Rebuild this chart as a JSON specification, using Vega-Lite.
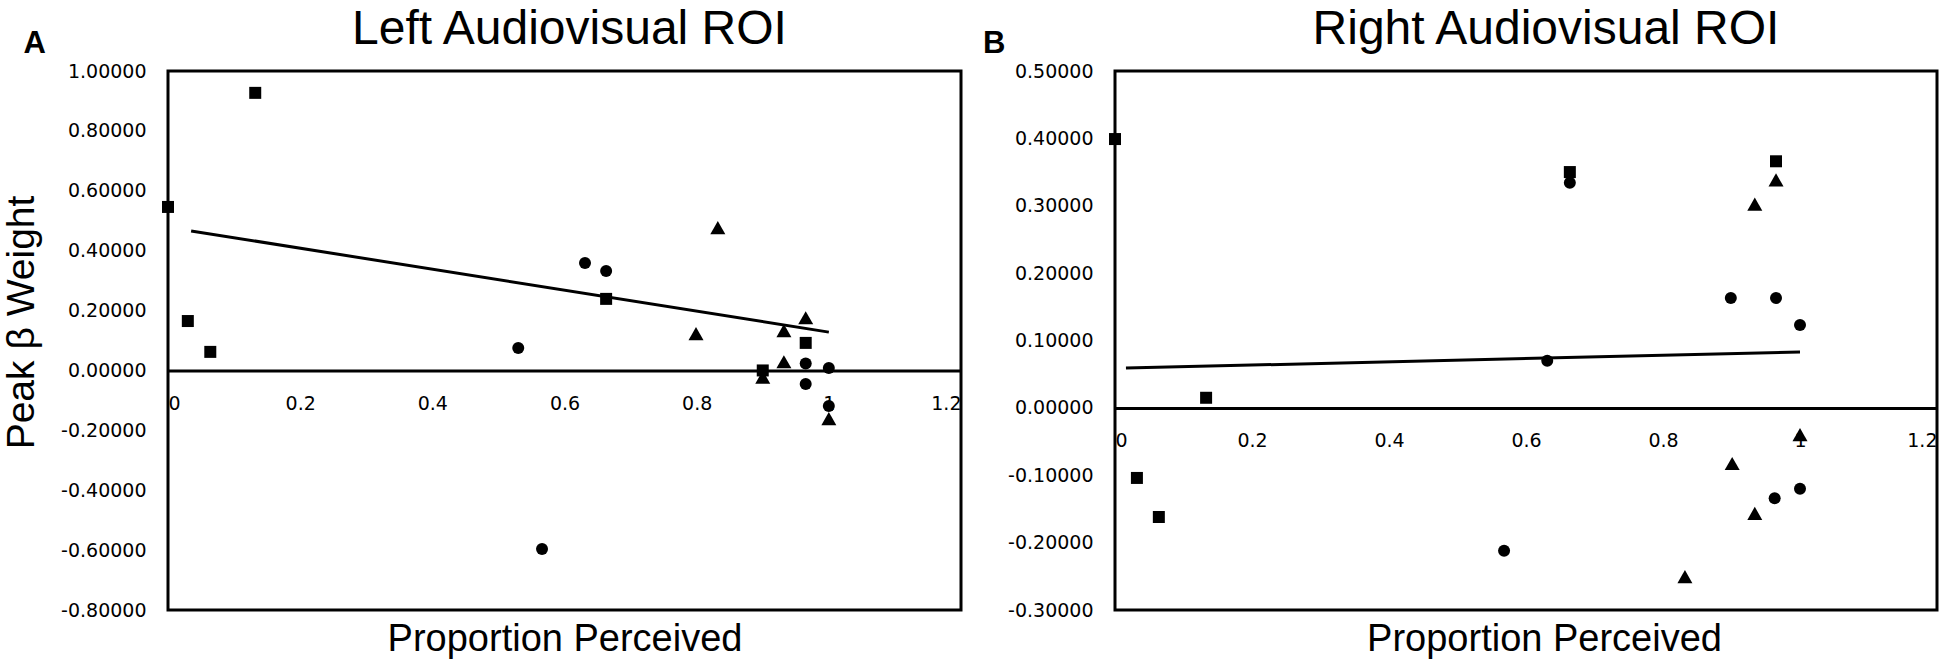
{
  "$schema": "https://vega.github.io/schema/vega-lite/v6.json",
  "padding": {"left": 0, "top": 4, "right": 0, "bottom": 0},
  "background": "white",
  "config": {
    "view": {"stroke": "black", "strokeWidth": 3},
    "axis": {"grid": false, "ticks": false, "labelColor": "black", "titleColor": "black", "labelFont": "DejaVu Sans", "labelFontSize": 19, "titleFont": "Liberation Sans", "titleFontWeight": "normal"},
    "title": {"font": "Liberation Sans", "color": "black", "baseline": "alphabetic"}
  },
  "datasets": {
    "left": [
      {"x": 0, "y": 0.546, "series": "S1"},
      {"x": 0.030, "y": 0.165, "series": "S1"},
      {"x": 0.064, "y": 0.062, "series": "S1"},
      {"x": 0.132, "y": 0.927, "series": "S1"},
      {"x": 0.663, "y": 0.239, "series": "S1"},
      {"x": 0.965, "y": 0.092, "series": "S1"},
      {"x": 0.900, "y": 0.0, "series": "S1"},
      {"x": 0.530, "y": 0.075, "series": "S2"},
      {"x": 0.631, "y": 0.359, "series": "S2"},
      {"x": 0.663, "y": 0.332, "series": "S2"},
      {"x": 0.566, "y": -0.596, "series": "S2"},
      {"x": 0.965, "y": 0.023, "series": "S2"},
      {"x": 1.0, "y": 0.008, "series": "S2"},
      {"x": 0.965, "y": -0.045, "series": "S2"},
      {"x": 1.0, "y": -0.119, "series": "S2"},
      {"x": 0.832, "y": 0.476, "series": "S3"},
      {"x": 0.799, "y": 0.122, "series": "S3"},
      {"x": 0.965, "y": 0.175, "series": "S3"},
      {"x": 0.932, "y": 0.132, "series": "S3"},
      {"x": 0.932, "y": 0.028, "series": "S3"},
      {"x": 0.900, "y": -0.023, "series": "S3"},
      {"x": 1.0, "y": -0.162, "series": "S3"}
    ],
    "right": [
      {"x": 0, "y": 0.399, "series": "S1"},
      {"x": 0.032, "y": -0.104, "series": "S1"},
      {"x": 0.064, "y": -0.162, "series": "S1"},
      {"x": 0.133, "y": 0.015, "series": "S1"},
      {"x": 0.664, "y": 0.350, "series": "S1"},
      {"x": 0.965, "y": 0.366, "series": "S1"},
      {"x": 0.664, "y": 0.334, "series": "S2"},
      {"x": 0.631, "y": 0.070, "series": "S2"},
      {"x": 0.568, "y": -0.212, "series": "S2"},
      {"x": 0.899, "y": 0.163, "series": "S2"},
      {"x": 0.965, "y": 0.163, "series": "S2"},
      {"x": 1.0, "y": 0.123, "series": "S2"},
      {"x": 1.0, "y": -0.120, "series": "S2"},
      {"x": 0.963, "y": -0.134, "series": "S2"},
      {"x": 0.965, "y": 0.338, "series": "S3"},
      {"x": 0.934, "y": 0.302, "series": "S3"},
      {"x": 1.0, "y": -0.040, "series": "S3"},
      {"x": 0.901, "y": -0.083, "series": "S3"},
      {"x": 0.934, "y": -0.157, "series": "S3"},
      {"x": 0.832, "y": -0.251, "series": "S3"}
    ],
    "leftTrend": [
      {"x": 0.035, "y": 0.466},
      {"x": 1.0, "y": 0.128}
    ],
    "rightTrend": [
      {"x": 0.016, "y": 0.059},
      {"x": 1.0, "y": 0.083}
    ]
  },
  "spacing": 20,
  "hconcat": [
    {
      "title": {"text": "A", "anchor": "start", "frame": "bounds", "fontSize": 31, "fontWeight": "bold", "offset": -55, "dx": 23},
      "hconcat": [
        {
          "width": 793,
          "height": 539,
          "title": {"text": "Left Audiovisual ROI", "fontSize": 48, "fontWeight": "normal", "offset": 8, "dx": 5},
          "layer": [
            {
              "data": {"name": "left"},
              "mark": {"type": "point", "filled": true, "color": "black", "opacity": 1, "size": 144},
              "encoding": {
                "x": {"field": "x", "type": "quantitative", "scale": {"domain": [0, 1.2], "nice": false, "zero": false},
                  "axis": {"values": [0, 0.2, 0.4, 0.6, 0.8, 1, 1.2], "format": "~g", "offset": -239.6, "domainColor": "black", "domainWidth": 3, "labelPadding": 24, "title": "Proportion Perceived", "titleFontSize": 38, "titleY": 280, "titleBaseline": "alphabetic"}},
                "y": {"field": "y", "type": "quantitative", "scale": {"domain": [-0.8, 1.0], "nice": false},
                  "axis": {"values": [-0.8, -0.6, -0.4, -0.2, 0, 0.2, 0.4, 0.6, 0.8, 1.0], "labelExpr": "replace(format(datum.value, '.5f'), '\u2212', '-')", "domain": false, "labelPadding": 22, "title": "Peak \u03b2 Weight", "titleFontSize": 39, "titleX": -135, "titleY": 251, "titleBaseline": "alphabetic", "titleAlign": "center"}},
                "shape": {"field": "series", "type": "nominal", "scale": {"domain": ["S1", "S2", "S3"], "range": ["square", "circle", "M0,-1.15L1.25,1.05L-1.25,1.05Z"]}, "legend": null}
              }
            },
            {
              "data": {"name": "leftTrend"},
              "mark": {"type": "line", "color": "black", "strokeWidth": 3},
              "encoding": {
                "x": {"field": "x", "type": "quantitative"},
                "y": {"field": "y", "type": "quantitative"}
              }
            }
          ]
        }
      ]
    },
    {
      "title": {"text": "B", "anchor": "start", "frame": "bounds", "fontSize": 31, "fontWeight": "bold", "offset": -55, "dx": -23},
      "hconcat": [
        {
          "width": 822,
          "height": 539,
          "title": {"text": "Right Audiovisual ROI", "fontSize": 48, "fontWeight": "normal", "offset": 8, "dx": 20},
          "layer": [
            {
              "data": {"name": "right"},
              "mark": {"type": "point", "filled": true, "color": "black", "opacity": 1, "size": 144},
              "encoding": {
                "x": {"field": "x", "type": "quantitative", "scale": {"domain": [0, 1.2], "nice": false, "zero": false},
                  "axis": {"values": [0, 0.2, 0.4, 0.6, 0.8, 1, 1.2], "format": "~g", "offset": -202.1, "domainColor": "black", "domainWidth": 3, "labelPadding": 24, "title": "Proportion Perceived", "titleFontSize": 38, "titleX": 429, "titleY": 243, "titleBaseline": "alphabetic"}},
                "y": {"field": "y", "type": "quantitative", "scale": {"domain": [-0.3, 0.5], "nice": false, "zero": false},
                  "axis": {"values": [-0.3, -0.2, -0.1, 0, 0.1, 0.2, 0.3, 0.4, 0.5], "labelExpr": "replace(format(datum.value, '.5f'), '\u2212', '-')", "domain": false, "labelPadding": 22, "title": null}},
                "shape": {"field": "series", "type": "nominal", "scale": {"domain": ["S1", "S2", "S3"], "range": ["square", "circle", "M0,-1.15L1.25,1.05L-1.25,1.05Z"]}, "legend": null}
              }
            },
            {
              "data": {"name": "rightTrend"},
              "mark": {"type": "line", "color": "black", "strokeWidth": 3},
              "encoding": {
                "x": {"field": "x", "type": "quantitative"},
                "y": {"field": "y", "type": "quantitative"}
              }
            }
          ]
        }
      ]
    }
  ]
}
